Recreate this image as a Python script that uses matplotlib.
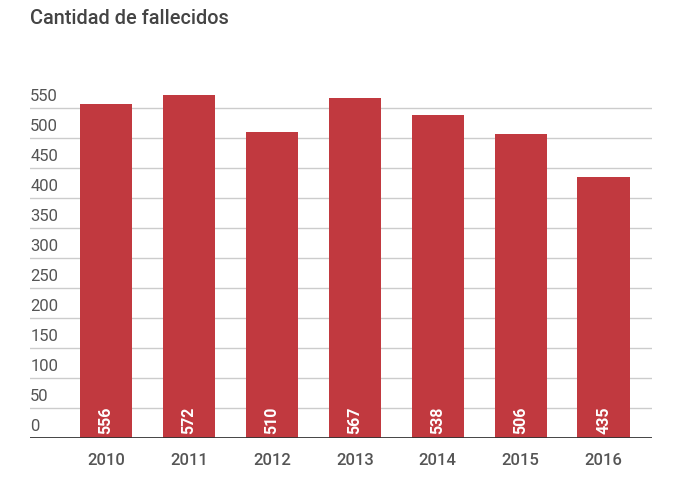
import matplotlib
matplotlib.use("Agg")
import matplotlib.pyplot as plt
import matplotlib.transforms as mtransforms

plt.rcParams['font.family'] = ['Roboto', 'DejaVu Sans']

years = ['2010', '2011', '2012', '2013', '2014', '2015', '2016']
deaths = [556, 572, 510, 567, 538, 506, 435]
y_ticks = list(range(0, 551, 50))

bar_color = '#c1393f'
text_grey = '#555555'

fig = plt.figure(figsize=(6.86, 4.86), dpi=100, facecolor='white')
ax = fig.add_axes([0.044, 0.0988, 0.906, 0.7407])

x = range(len(years))
ax.bar(x, deaths, width=0.63, color=bar_color, zorder=3)

# value labels inside bars
for i, v in enumerate(deaths):
    ax.text(i, 6, str(v), rotation=90, ha='center', va='bottom',
            color='white', fontsize=11.5, fontweight='bold', zorder=4)

ax.set_xlim(-0.916, 6.58)
ax.set_ylim(0, 600)

# gridlines and tick labels sitting above the lines
trans = mtransforms.blended_transform_factory(ax.transAxes, ax.transData)
for t in y_ticks:
    if t > 0:
        ax.axhline(t, color='#cccccc', linewidth=1, zorder=1)
    ax.text(0.0, t + 7, str(t), transform=trans, ha='left', va='bottom',
            fontsize=12, color=text_grey)
ax.axhline(0, color='#333333', linewidth=2, zorder=5)

ax.set_xticks(list(x))
ax.set_xticklabels(years, fontsize=12, color=text_grey, fontweight='medium')
ax.tick_params(axis='x', length=0, pad=11)
ax.set_yticks([])
for s in ax.spines.values():
    s.set_visible(False)

fig.text(0.044, 0.962, 'Cantidad de fallecidos', fontsize=14.3, color='#444444',
         ha='left', va='center', fontweight='medium')

fig.savefig('out.png', dpi=100, facecolor='white')
